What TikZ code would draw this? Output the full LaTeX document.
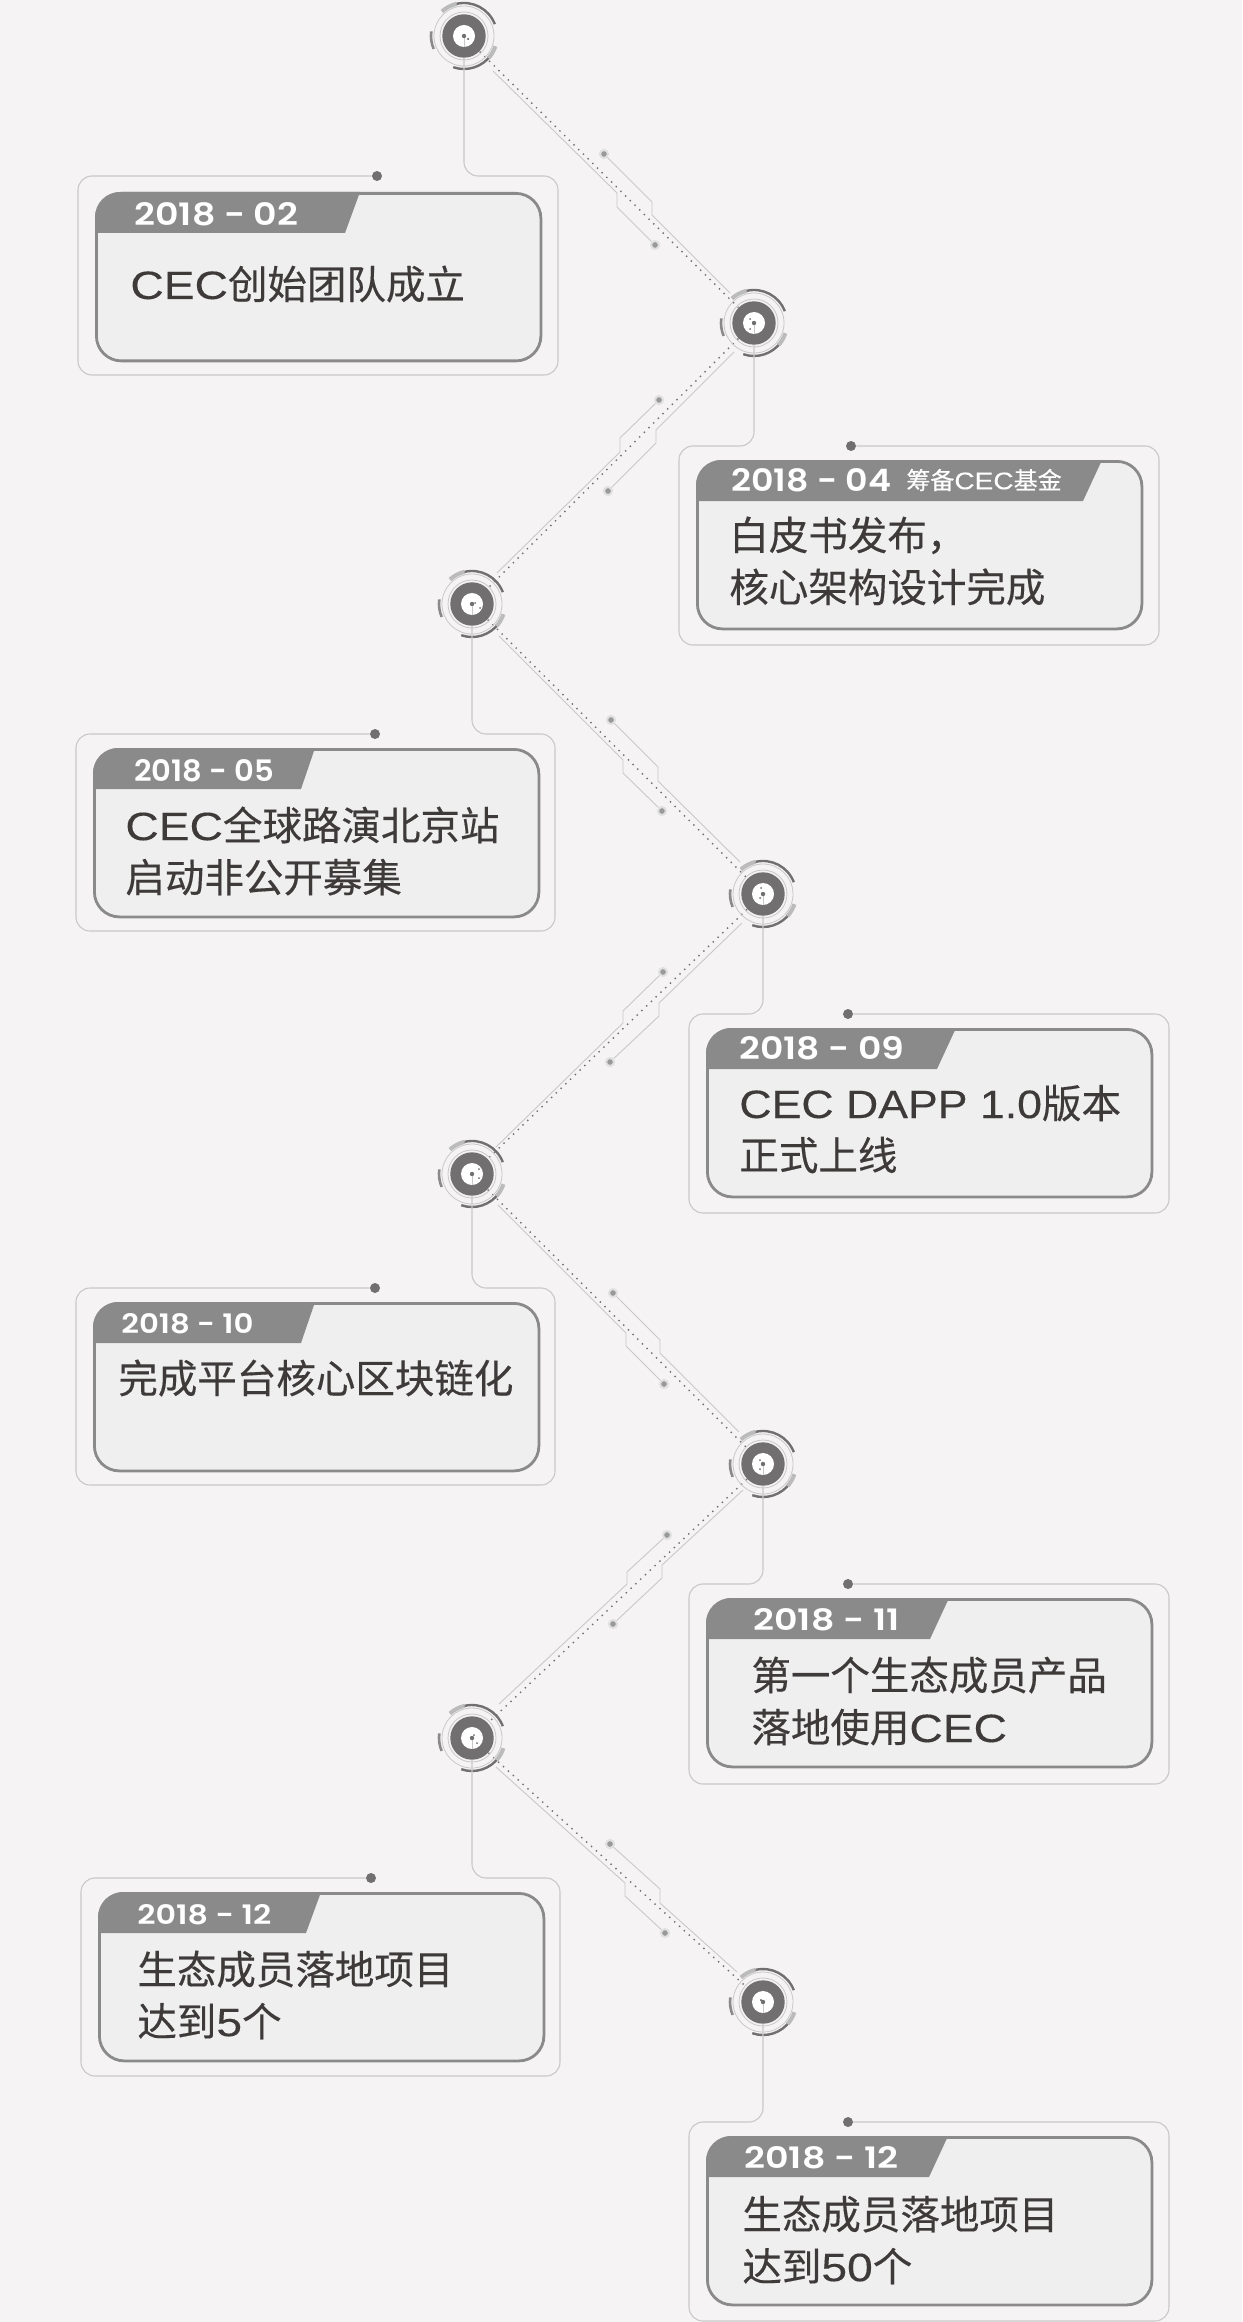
\documentclass[tikz,border=0pt]{standalone}
\usepackage{fontspec}
\usepackage{graphicx}
\usetikzlibrary{calc}
\setmainfont[FakeBold=0.35]{Noto Sans CJK SC}
\newfontfamily\latfont[FakeStretch=1.17,FakeBold=0.25]{Liberation Sans}
\newfontfamily\latwide[FakeStretch=1.13,FakeBold=0.25]{Liberation Sans}
\newfontfamily\datefont[UprightFont=* SemiBold]{Poppins}
\newcommand{\lat}[1]{{\latfont #1}}
\definecolor{bgcolor}{HTML}{F5F3F4}
\definecolor{cardfill}{HTML}{EFEFF0}
\definecolor{tabgray}{HTML}{8A8A8A}
\definecolor{hubdark}{HTML}{716F70}
\definecolor{inktext}{HTML}{3E3A39}
\definecolor{framegray}{HTML}{C9C9C9}
\definecolor{lightarc}{HTML}{BBBBBB}
\tikzset{
    hubdisk/.style={circle,fill=hubdark,minimum size=21.7pt,inner sep=0pt},
    hubrings/.pic={
        \fill[white] (0,0) circle (11);
        \draw[framegray,line width=0.35pt] (0,0) -- (0,-11);
        \draw[framegray,line width=0.4pt] (0,0) circle (24);
        \draw[framegray,line width=0.4pt] (0,0) circle (30);
        \draw[lightarc,line width=2pt] (132:33) arc[start angle=132,end angle=103,radius=33];
        \draw[hubdark,line width=1.2pt] (103:33) arc[start angle=103,end angle=21,radius=33];
        \draw[tabgray,line width=1.3pt] (172:33) arc[start angle=172,end angle=203,radius=33];
        \draw[hubdark,line width=1.2pt] (-109:33) arc[start angle=-109,end angle=-35,radius=33];
        \draw[lightarc,line width=2pt] (-18:33) arc[start angle=-18,end angle=-42,radius=33];
        \fill[hubdark] (0,0) circle (2.2);
    },
    frameline/.style={framegray,line width=0.55pt,rounded corners=7pt},
    cardbox/.style={draw=tabgray,fill=cardfill,line width=1.4pt,rounded corners=12.5pt,
        minimum width=222.25pt,minimum height=83.75pt,inner sep=0pt,anchor=north west},
    enddot/.style={circle,fill=hubdark,minimum size=5pt,inner sep=0pt},
    paddot/.style={circle,fill=black!40,draw=black!12,line width=1pt,minimum size=4pt,inner sep=0pt},
    traceline/.style={framegray,line width=0.45pt},
    dotline/.style={hubdark,line width=0.7pt,dash pattern=on 0.7pt off 2.6pt},
    datetext/.style={anchor=west,inner sep=0pt,text=white,font=\datefont},
    bodytext/.style={anchor=west,inner sep=0pt,align=left,text=inktext,
        font=\fontsize{19.75pt}{26pt}\selectfont},
    notetext/.style={anchor=west,inner sep=0pt,text=white,font=\fontsize{12pt}{14pt}\selectfont}
}
\begin{document}
\begin{tikzpicture}[x=0.5pt,y=0.5pt]
    \useasboundingbox (0,0) rectangle (1242,-2322);
    \fill[bgcolor] (0,0) rectangle (1242,-2322);

    % hubs
    \foreach \n/\hx/\hy in {1/464/36,2/754/323,3/472/604,4/763/894,5/472/1174,6/763/1464,7/472/1738,8/763/2002}
        \node[hubdisk] (hub\n) at (\hx,-\hy) {};

    % links between hubs
    \foreach \a/\b in {1/2,2/3,3/4,4/5,5/6,6/7,7/8}
        \draw[dotline] (hub\a) -- (hub\b);

    % traces beside the links
    \foreach \n/\ax/\ay/\bx/\by/\cx/\cy/\dx/\dy/\ex/\ey/\fx/\fy/\gx/\gy/\kx/\ky in {
        1/493/71/617/193/617/207/655/245/604/154/652/202/652/215/730/293,
        2/734/352/656/430/656/443/608/491/659/400/620/438/620/452/497/573,
        3/499/636/623/760/623/773/662/811/611/720/658/767/658/781/740/862,
        4/742/923/659/1003/659/1016/610/1062/663/972/623/1011/623/1023/496/1147,
        5/498/1205/626/1333/626/1346/664/1384/613/1293/660/1340/660/1353/739/1432,
        6/743/1490/662/1565/662/1578/613/1624/667/1535/627/1572/627/1584/499/1704,
        7/496/1767/625/1883/625/1896/665/1933/610/1844/660/1889/660/1903/737/1972}{
        \node[paddot] (pada\n) at (\dx,-\dy) {};
        \node[paddot] (padb\n) at (\ex,-\ey) {};
        \draw[traceline] (\ax,-\ay) -- (\bx,-\by) -- (\cx,-\cy) -- (pada\n);
        \draw[traceline] (padb\n) -- (\fx,-\fy) -- (\gx,-\gy) -- (\kx,-\ky);
    }

    % hub faces
    \foreach \n/\ax/\ay/\bx/\by in {1/4/3/4/3,2/-4/-4/-4/6,3/3/-1/8/4,4/-2/-6/-3/4,5/7/-5/7/4,6/-3/-4/-3/5,7/2/-3/5/5,8/-2/-2/-2/-2}{
        \pic at (hub\n) {hubrings};
        \fill[hubdark] ($(hub\n)+(\ax,-\ay)$) circle (1);
        \fill[hubdark] ($(hub\n)+(\bx,-\by)$) circle (1);
    }

    % cards
    \foreach \n/\near/\far/\ct/\cb/\co/\dotx/\tabt/\tabb in {
        1/78/558/176/375/16/377/360/345,
        2/1159/679/446/645/14/851/1102/1083,
        3/76/555/734/931/14/375/315/301,
        4/1169/689/1014/1213/14/848/956/937,
        5/76/555/1288/1485/14/375/315/301,
        6/1169/689/1584/1784/14/848/949/930,
        7/81/560/1878/2076/14/371/321/306,
        8/1169/689/2122/2321/14/848/948/929}{
        \pgfmathsetmacro\cl{min(\near,\far)+17}
        \node[enddot] (dot\n) at (\dotx,-\ct) {};
        \draw[frameline] (dot\n) -- (\near,-\ct) -- (\near,-\cb) -- (\far,-\cb) -- (\far,-\ct) -- (hub\n |- dot\n) -- (hub\n);
        \node[cardbox] (card\n) at (\cl,-\ct-\co) {};
        \fill[tabgray] (\cl,-\ct-\co-41) -- (\cl,-\ct-\co-25) arc[start angle=180,end angle=90,radius=25] -- (\tabt,-\ct-\co) -- (\tabb,-\ct-\co-41) -- cycle;
    }

    % dates
    \node[datetext] (date1) at (134,-214) {\resizebox{82pt}{11.5pt}{2018 - 02}};
    \node[datetext] (date2) at (731,-480) {\resizebox{80pt}{11.5pt}{2018 - 04}};
    \node[notetext] (note2) at (906,-480) {筹备\lat{CEC}基金};
    \node[datetext] (date3) at (134,-771) {\resizebox{70pt}{11pt}{2018 - 05}};
    \node[datetext] (date4) at (739,-1048) {\resizebox{82.5pt}{11.5pt}{2018 - 09}};
    \node[datetext] (date5) at (121,-1324) {\resizebox{66pt}{10pt}{2018 - 10}};
    \node[datetext] (date6) at (753,-1620) {\resizebox{73pt}{11pt}{2018 - 11}};
    \node[datetext] (date7) at (137,-1915) {\resizebox{67pt}{10pt}{2018 - 12}};
    \node[datetext] (date8) at (744,-2158) {\resizebox{77pt}{11pt}{2018 - 12}};

    % texts
    \node[bodytext] (text1) at (130,-284) {\lat{CEC}创始团队成立};
    \node[bodytext] (text2) at (729,-561) {白皮书发布，\\核心架构设计完成};
    \node[bodytext] (text3) at (125,-851) {\lat{CEC}全球路演北京站\\启动非公开募集};
    \node[bodytext] (text4) at (739,-1129) {{\latwide CEC DAPP 1.0}版本\\正式上线};
    \node[bodytext] (text5) at (118,-1378) {完成平台核心区块链化};
    \node[bodytext] (text6) at (751,-1701) {第一个生态成员产品\\落地使用\lat{CEC}};
    \node[bodytext] (text7) at (137,-1995) {生态成员落地项目\\达到\lat{5}个};
    \node[bodytext] (text8) at (742,-2240) {生态成员落地项目\\达到\lat{50}个};
\end{tikzpicture}
\end{document}
